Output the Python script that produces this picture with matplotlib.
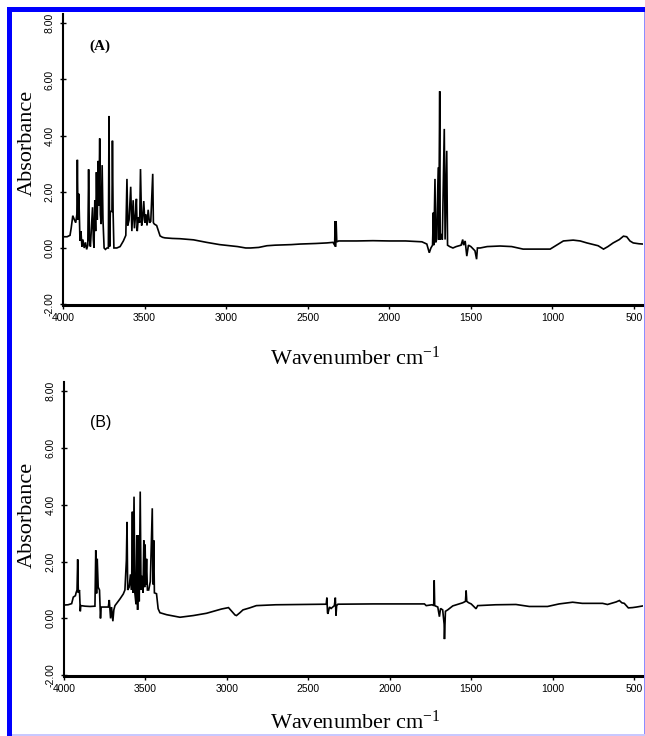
import matplotlib
matplotlib.use("Agg")
import matplotlib.pyplot as plt
from matplotlib.patches import Rectangle

# ---------------- data ----------------
wn_a = [4000, 3975, 3957, 3950, 3940, 3930, 3922, 3915, 3912, 3908, 3903, 3899, 3896, 3890, 3884,
        3878, 3870, 3862, 3855, 3848, 3843, 3838, 3832, 3825, 3819, 3814, 3810, 3805, 3800, 3795,
        3790, 3785, 3780, 3775, 3771, 3766, 3760, 3755, 3748, 3740, 3730, 3722, 3718, 3714, 3710,
        3700, 3697, 3693, 3688, 3670, 3650, 3630, 3615, 3608, 3603, 3595, 3585, 3578, 3570, 3562,
        3555, 3550, 3545, 3538, 3530, 3525, 3518, 3512, 3505, 3498, 3492, 3485, 3478, 3470, 3462,
        3450, 3446, 3440, 3426, 3415, 3405, 3390, 3375, 3330, 3283, 3200, 3120, 3040, 2980, 2930,
        2880, 2850, 2800, 2750, 2700, 2600, 2547, 2450, 2383, 2345, 2335, 2332, 2330, 2326, 2322,
        2310, 2200, 2100, 2000, 1900, 1800, 1770, 1755, 1745, 1735, 1730, 1727, 1720, 1716, 1710,
        1700, 1697, 1691, 1688, 1682, 1675, 1663, 1658, 1648, 1643, 1630, 1610, 1590, 1560, 1550,
        1545, 1535, 1525, 1515, 1500, 1475, 1465, 1460, 1443, 1400, 1321, 1250, 1180, 1100, 1014,
        980, 933, 873, 830, 789, 720, 687, 660, 628, 590, 565, 545, 525, 505, 470, 445]
abs_a = [0.40, 0.40, 0.45, 0.70, 1.15, 1.00, 0.90, 1.20, 3.14, 1.00, 1.93, 0.90, 0.25, 0.60, 0.05,
         0.30, 0.00, 0.20, -0.05, 0.10, 2.80, 0.30, 0.05, 0.80, 1.45, 0.30, 0.00, 1.70, 0.60, 2.70,
         1.00, 3.10, 1.50, 3.90, 1.20, 0.85, 2.95, 1.00, 0.00, -0.05, 0.00, 0.00, 4.70, 0.05, 1.30,
         1.30, 3.82, 1.30, 0.00, 0.00, 0.05, 0.25, 0.45, 2.46, 0.80, 1.00, 2.18, 0.60, 1.70, 0.70,
         1.20, 1.75, 0.60, 1.10, 0.90, 2.81, 0.80, 1.00, 1.67, 0.90, 1.20, 0.80, 1.36, 0.90, 0.95,
         2.64, 0.90, 0.85, 0.80, 0.60, 0.43, 0.38, 0.36, 0.34, 0.33, 0.29, 0.20, 0.12, 0.08, 0.05,
         0.00, 0.00, 0.02, 0.08, 0.10, 0.12, 0.14, 0.16, 0.18, 0.20, 0.10, 0.96, 0.04, 0.96, 0.22,
         0.25, 0.25, 0.26, 0.25, 0.25, 0.22, 0.14, -0.17, 0.00, 0.10, 1.26, 0.10, 2.46, 0.20, 0.30,
         2.87, 0.30, 5.58, 0.30, 0.50, 0.30, 4.24, 0.30, 3.46, 0.10, 0.05, 0.00, 0.05, 0.10, 0.30,
         0.10, 0.25, -0.29, 0.10, 0.05, -0.10, -0.40, 0.00, 0.00, 0.05, 0.07, 0.05, -0.04, -0.04, -0.04,
         0.08, 0.25, 0.28, 0.25, 0.18, 0.08, -0.04, 0.05, 0.18, 0.30, 0.42, 0.40, 0.25, 0.18, 0.15, 0.14]

wn_b = [4000, 3975, 3953, 3943, 3930, 3926, 3920, 3916, 3912, 3905, 3902, 3900, 3897, 3870, 3840,
        3810, 3805, 3800, 3796, 3790, 3782, 3776, 3772, 3740, 3728, 3722, 3714, 3708, 3700, 3694,
        3687, 3657, 3636, 3626, 3617, 3613, 3609, 3600, 3592, 3585, 3580, 3576, 3570, 3565, 3558,
        3553, 3548, 3543, 3538, 3532, 3527, 3521, 3515, 3510, 3505, 3502, 3498, 3493, 3488, 3480,
        3470, 3458, 3454, 3449, 3445, 3432, 3422, 3411, 3370, 3288, 3206, 3125, 3033, 2990, 2970,
        2950, 2941, 2920, 2901, 2860, 2819, 2700, 2550, 2390, 2386, 2382, 2380, 2370, 2360, 2340,
        2334, 2330, 2326, 2318, 2100, 1900, 1787, 1776, 1740, 1730, 1727, 1724, 1705, 1695, 1688,
        1675, 1666, 1664, 1660, 1658, 1644, 1613, 1552, 1535, 1531, 1527, 1515, 1500, 1470, 1460,
        1350, 1225, 1143, 1031, 960, 877, 818, 693, 663, 610, 590, 575, 560, 535, 510, 485, 445]
abs_b = [0.47, 0.48, 0.52, 0.75, 0.80, 0.90, 1.00, 2.08, 0.90, 1.00, 0.60, 0.25, 0.45, 0.43, 0.42,
         0.43, 2.40, 0.88, 2.10, 1.10, 1.00, 0.00, 0.40, 0.40, 0.40, 0.65, 0.00, 0.40, -0.10, 0.30,
         0.45, 0.68, 0.86, 1.00, 2.05, 3.40, 1.00, 1.10, 1.55, 1.00, 3.76, 0.90, 4.29, 0.90, 0.50,
         2.93, 0.30, 2.93, 0.60, 4.47, 1.00, 1.50, 0.90, 2.75, 1.10, 2.60, 1.20, 2.10, 1.00, 1.00,
         1.30, 3.88, 1.20, 2.75, 0.90, 0.87, 0.34, 0.20, 0.13, 0.04, 0.10, 0.18, 0.33, 0.38, 0.25,
         0.12, 0.10, 0.20, 0.30, 0.37, 0.45, 0.48, 0.49, 0.50, 0.73, 0.20, 0.16, 0.40, 0.35, 0.45,
         0.73, 0.10, 0.45, 0.50, 0.51, 0.51, 0.51, 0.45, 0.48, 0.45, 1.34, 0.45, 0.40, 0.06, 0.35,
         0.30, -0.20, -0.73, -0.10, 0.25, 0.30, 0.44, 0.55, 0.60, 0.98, 0.60, 0.55, 0.51, 0.34, 0.45,
         0.48, 0.49, 0.42, 0.42, 0.51, 0.57, 0.53, 0.53, 0.49, 0.58, 0.63, 0.55, 0.53, 0.37, 0.38, 0.40, 0.44]

x_ticks = [4000, 3500, 3000, 2500, 2000, 1500, 1000, 500]
x_tick_labels = ["4000", "3500", "3000", "2500", "2000", "1500", "1000", "500"]
y_ticks = [-2, 0, 2, 4, 6, 8]
y_tick_labels = ["-2.00", "0.00", "2.00", "4.00", "6.00", "8.00"]
panel_labels = ["(A)", "(B)"]

# ---------------- figure ----------------
plt.rcParams['mathtext.fontset'] = 'custom'
plt.rcParams['mathtext.rm'] = 'Liberation Serif'
plt.rcParams['mathtext.default'] = 'rm'
W, H = 645, 736
fig = plt.figure(figsize=(W / 100, H / 100), dpi=100)
fig.patch.set_facecolor('white')


def px_rect(x0, y0, x1, y1):
    return [x0 / W, 1 - y1 / H, (x1 - x0) / W, (y1 - y0) / H]


ax_a = fig.add_axes(px_rect(63, 14, 643, 305))
ax_b = fig.add_axes(px_rect(64, 382, 643, 676))

serif = ['Liberation Serif', 'DejaVu Serif']
sans = ['Liberation Sans', 'DejaVu Sans']

for ax, wn, ab in [(ax_a, wn_a, abs_a), (ax_b, wn_b, abs_b)]:
    ax.plot(wn, ab, color='black', lw=1.2, solid_joinstyle='miter')
    ax.set_xlim(4000, 445)
    ax.set_ylim(-2.03, 8.33)
    for s in ['top', 'right']:
        ax.spines[s].set_visible(False)
    ax.spines['left'].set_linewidth(1.5)
    ax.spines['bottom'].set_linewidth(2.2)
    ax.set_xticks(x_ticks)
    ax.set_xticklabels(x_tick_labels, fontsize=7.5, family=sans)
    ax.set_yticks(y_ticks)
    ax.set_yticklabels(y_tick_labels, fontsize=7.5, family=sans, rotation=90, va='center')
    ax.tick_params(axis='x', direction='out', length=3, width=1, pad=3)
    ax.tick_params(axis='y', direction='inout', length=4, width=1, pad=4)
    ax.patch.set_alpha(0)

fig.text(100 / W, 1 - 46 / H, panel_labels[0], fontsize=11, fontweight='bold',
         family=serif, ha='center', va='center')
fig.text(101 / W, 1 - 422 / H, panel_labels[1], fontsize=11.5, family=sans,
         ha='center', va='center')

# axis titles
fig.text(27 / W, 1 - 143 / H, "Absorbance", rotation=90, fontsize=16, family=serif,
         ha='center', va='center')
fig.text(27 / W, 1 - 515 / H, "Absorbance", rotation=90, fontsize=16, family=serif,
         ha='center', va='center')
fig.text(355 / W, 1 - 358 / H, "Wavenumber cm$^{-1}$", fontsize=16, family=serif,
         ha='center', va='center')
fig.text(355 / W, 1 - 722 / H, "Wavenumber cm$^{-1}$", fontsize=16, family=serif,
         ha='center', va='center')

# blue frame
fig.patches.append(Rectangle((7 / W, 0), 5 / W, 1 - 7 / H, transform=fig.transFigure,
                             facecolor='#0000FF', edgecolor='none'))
fig.patches.append(Rectangle((7 / W, 1 - 12 / H), 1 - 7 / W, 5 / H, transform=fig.transFigure,
                             facecolor='#0000FF', edgecolor='none'))
fig.patches.append(Rectangle((643.5 / W, 0), 1.5 / W, 1 - 12 / H, transform=fig.transFigure,
                             facecolor='#8c8cff', edgecolor='none'))
fig.patches.append(Rectangle((12 / W, 0), 1 - 12 / W, 2.5 / H, transform=fig.transFigure,
                             facecolor='#c8c8ff', edgecolor='none'))

fig.savefig("out.png", dpi=100)
